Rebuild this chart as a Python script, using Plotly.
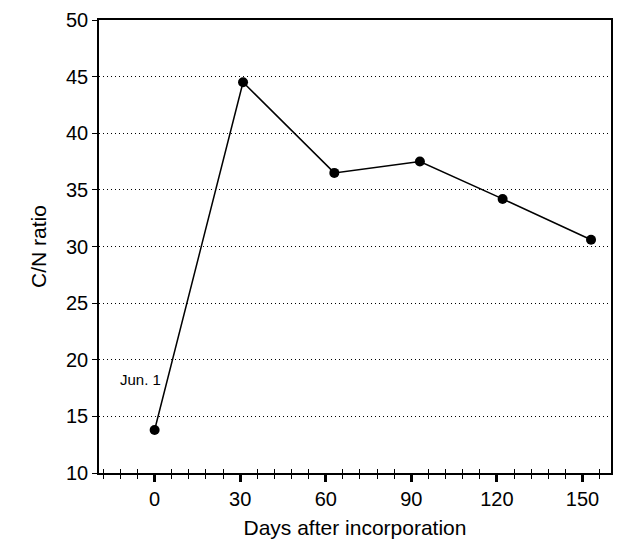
import plotly.graph_objects as go

days = [0, 31, 63, 93, 122, 153]
cn_ratio = [13.8, 44.5, 36.5, 37.5, 34.2, 30.6]
x_ticks = [0, 30, 60, 90, 120, 150]
y_ticks = [10, 15, 20, 25, 30, 35, 40, 45, 50]
annot_text = "Jun. 1"
annot_pos = (-5, 18.3)

x_range = [-19.5, 160]
y_range = [10, 50]
minor_step = 6
minor_vals = [v for v in range(-18, 161, minor_step) if v not in x_ticks]

FONT = "Arial, 'Liberation Sans', Helvetica, sans-serif"

fig = go.Figure()
fig.add_trace(go.Scatter(
    x=days, y=cn_ratio, mode="lines+markers",
    line=dict(color="black", width=1.5),
    marker=dict(color="black", size=10),
    showlegend=False,
))
# invisible trace to activate second x-axis (inside minor ticks)
fig.add_trace(go.Scatter(x=[x_range[0]], y=[y_range[0]], xaxis="x2", mode="markers",
                         marker=dict(opacity=0), showlegend=False, hoverinfo="skip"))

fig.add_annotation(x=annot_pos[0], y=annot_pos[1], text=annot_text, showarrow=False,
                   font=dict(size=15, color="black", family=FONT))

fig.update_layout(
    width=622, height=546,
    margin=dict(l=99, r=9, t=15, b=73),
    paper_bgcolor="white", plot_bgcolor="white",
    font=dict(family=FONT, color="black", size=20),
    xaxis=dict(
        range=x_range, tickmode="array", tickvals=x_ticks,
        ticks="outside", ticklen=7, tickwidth=3, tickcolor="black",
        showline=True, linecolor="black", linewidth=1.5, mirror=True,
        showgrid=False, zeroline=False,
        minor=dict(tickmode="array", tickvals=minor_vals, ticks="outside", ticklen=4, tickwidth=1, tickcolor="black"),
        title=dict(text="Days after incorporation", font=dict(size=21), standoff=12),
        tickfont=dict(size=20),
    ),
    xaxis2=dict(
        range=x_range, overlaying="x", anchor="y", side="bottom",
        tickmode="array", tickvals=minor_vals, ticks="inside", ticklen=4, tickwidth=1, tickcolor="black",
        showticklabels=False, showgrid=False, zeroline=False, showline=False,
    ),
    yaxis=dict(
        range=y_range, tickmode="array", tickvals=y_ticks,
        ticks="outside", ticklen=5, tickwidth=1, tickcolor="black",
        showline=True, linecolor="black", linewidth=1.5, mirror=True,
        showgrid=True, gridcolor="black", griddash="1px,3px", gridwidth=1,
        zeroline=False,
        title=dict(text="C/N ratio", font=dict(size=21), standoff=14),
        tickfont=dict(size=20),
    ),
)

fig.write_html("out.html", config={"displayModeBar": False},
               post_script="document.body.style.margin='0';document.body.style.padding='0';")
